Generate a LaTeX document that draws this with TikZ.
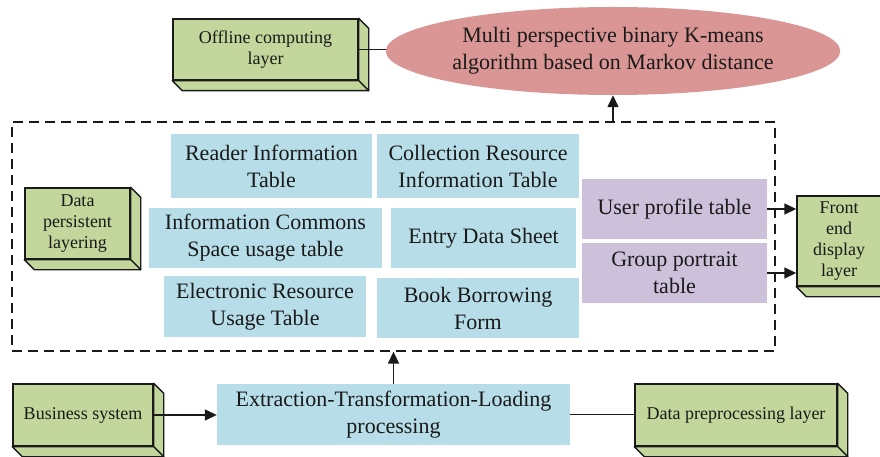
\documentclass[tikz,border=0pt]{standalone}
\usepackage{fontspec}
\setmainfont{Liberation Serif}
\usetikzlibrary{shapes.geometric,arrows.meta,calc}
\definecolor{gfill}{HTML}{C3D69B}
\definecolor{bfill}{HTML}{B7DDE8}
\definecolor{pfill}{HTML}{CCC0DA}
\definecolor{efill}{HTML}{D99694}
\definecolor{ink}{HTML}{1A1A1A}
\tikzset{
  bigtext/.style={font=\fontsize{22}{27}\selectfont, text=ink, align=center},
  smalltext/.style={font=\fontsize{18}{21}\selectfont, text=ink, align=center},
  gbox/.style={smalltext, draw=ink, line width=1.4pt, fill=gfill, inner sep=0pt},
  bbox/.style={bigtext, fill=bfill, inner sep=0pt},
  pbox/.style={bigtext, fill=pfill, inner sep=0pt},
  conn/.style={draw=ink, line width=1.4pt},
  arr/.style={conn, -{Triangle[length=12pt,width=11pt]}},
  frame/.style={draw=ink, line width=1.3pt, dash pattern=on 10pt off 6pt, inner sep=0pt},
  face/.style={fill=gfill, draw=ink, line width=1.4pt, line join=round},
}
\newcommand{\boxdepth}[1]{%
  \path[face] (#1.north east) -- ++(10,10) -- ($(#1.south east)+(10,10)$) -- (#1.south east) -- cycle;
  \path[face] (#1.south west) -- (#1.south east) -- ($(#1.south east)+(10,10)$) -- ($(#1.south west)+(10,10)$) -- cycle;
}
\begin{document}
\begin{tikzpicture}[x=1pt,y=-1pt]
\useasboundingbox (0,0) rectangle (880,457);
\fill[white] (0,0) rectangle (880,457);

% dashed frame
\node[frame, minimum width=763pt, minimum height=229pt] (persist) at (393.5,236.5) {};

% green 3D boxes
\node[gbox, minimum width=185pt, minimum height=61pt] (off) at (265.5,49.5) {Offline computing\\layer};
\boxdepth{off}
\node[gbox, minimum width=105pt, minimum height=71pt] (dp) at (77.5,223.5) {Data\\persistent\\layering};
\boxdepth{dp}
\node[gbox, minimum width=84pt, minimum height=90pt] (fe) at (839,241) {Front\\end\\display\\layer};
\boxdepth{fe}
\node[gbox, minimum width=140pt, minimum height=62pt] (bs) at (83,415) {Business system};
\boxdepth{bs}
\node[gbox, minimum width=202pt, minimum height=62pt] (pre) at (736,415) {Data preprocessing layer};
\boxdepth{pre}

% ellipse
\node[ellipse, fill=efill, bigtext, minimum width=402pt, minimum height=88pt, inner sep=0pt] (ell) at (613,51) {Multi perspective binary K-means\\algorithm based on Markov distance};

% blue tables
\node[bbox, minimum width=201pt, minimum height=64pt] (reader) at (271.5,166) {Reader Information\\Table};
\node[bbox, minimum width=202pt, minimum height=64pt] (coll) at (478,166) {Collection Resource\\Information Table};
\node[bbox, minimum width=233pt, minimum height=60pt] (ic) at (265.5,238) {Information Commons\\Space usage table};
\node[bbox, minimum width=185pt, minimum height=60pt] (eds) at (483.5,238) {Entry Data Sheet};
\node[bbox, minimum width=202pt, minimum height=61pt] (er) at (265,306.5) {Electronic Resource\\Usage Table};
\node[bbox, minimum width=202pt, minimum height=60pt] (bb) at (478,308) {Book Borrowing\\Form};
\node[bbox, minimum width=353pt, minimum height=61pt] (etl) at (393.5,414.5) {Extraction-Transformation-Loading\\processing};

% purple tables
\node[pbox, minimum width=185pt, minimum height=60pt] (up) at (674.5,209) {User profile table};
\node[pbox, minimum width=185pt, minimum height=60pt] (gp) at (674.5,273) {Group portrait\\table};

% connectors
\draw[conn] (off.east) -- (off.east -| ell.west);
\draw[arr] (persist.north -| ell.south) -- (ell.south);
\draw[arr] (up.east) -- (up.east -| fe.west);
\draw[arr] (gp.east) -- (gp.east -| fe.west);
\draw[arr] (bs.east) -- (bs.east -| etl.west);
\draw[arr] (etl.north) -- (etl.north |- persist.south);
\draw[conn] (etl.east) -- (etl.east -| pre.west);
\end{tikzpicture}
\end{document}
